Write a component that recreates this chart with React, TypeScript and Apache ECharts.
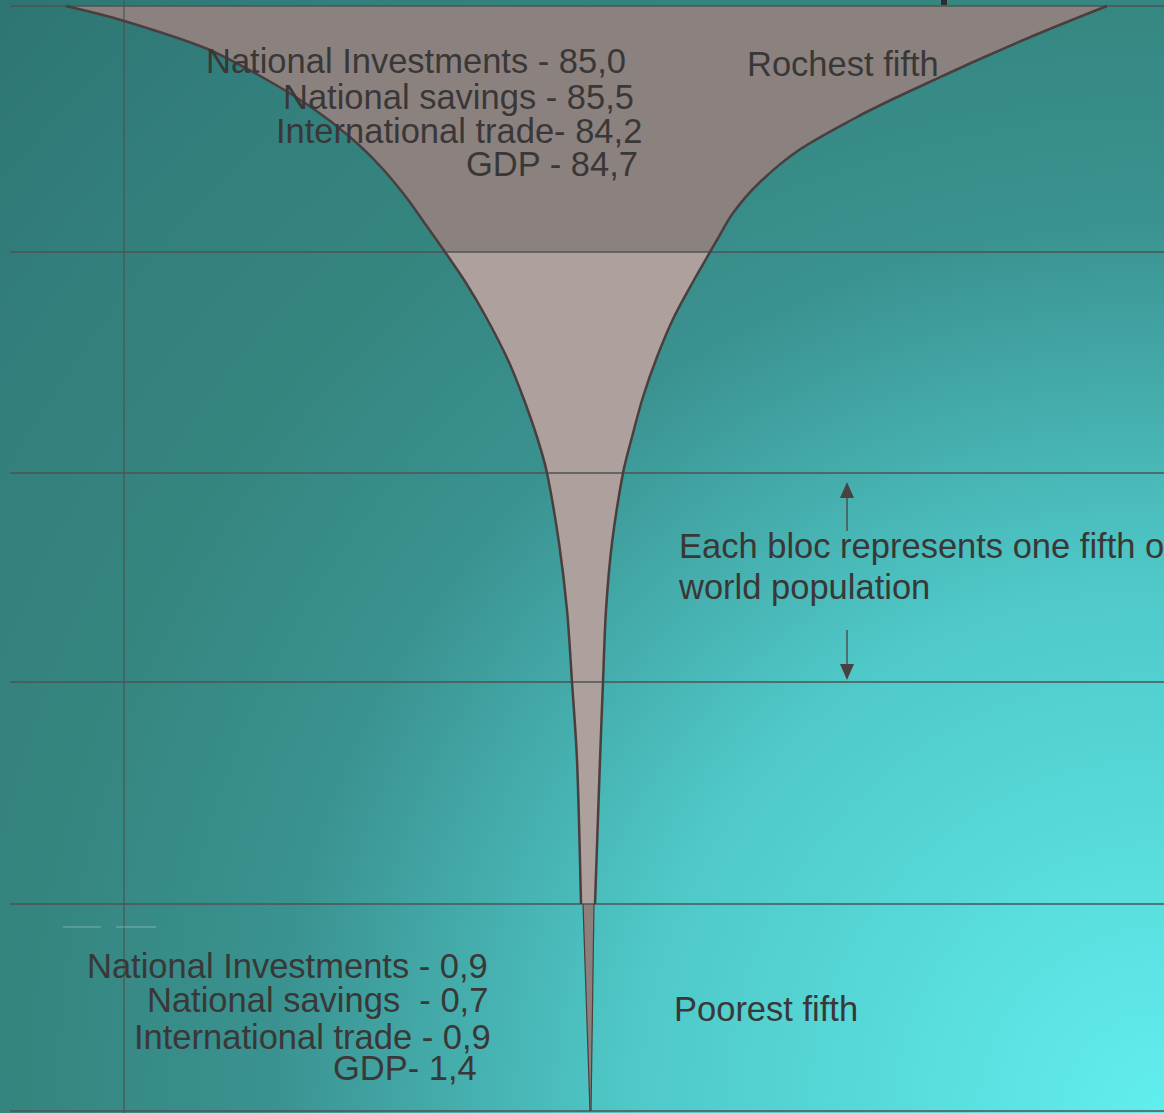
import React, { useEffect, useRef } from "react";
import * as echarts from "echarts";

const W = 1164;
const H = 1113;

// Boundaries between the five population blocs (top → bottom)
const blocBounds = [6, 252, 473, 682, 904, 1111];
const blocNames = ["Richest fifth", "Second fifth", "Third fifth", "Fourth fifth", "Poorest fifth"];
const blocColors = ["#8b8280", "#ada09d", "#ada09d", "#ada09d", "#8c7f7c"];

// Outline of the "champagne glass" (x, depth)
const leftEdge: [number, number][] = [
  [66, 6], [121, 20], [205, 48], [262, 77], [311, 107], [350, 137], [381, 167], [406, 197],
  [426, 225], [445, 252], [466, 283], [486, 317], [508, 360], [523, 397], [537, 437], [547, 473],
  [559, 543], [567, 610], [572, 682], [577, 760], [581, 904],
];
const rightEdge: [number, number][] = [
  [1107, 6], [1040, 33], [980, 59], [934, 80], [891, 100], [857, 117], [799, 150], [759, 183],
  [733, 213], [717, 240], [710, 252], [694, 280], [674, 317], [657, 357], [643, 397], [632, 437],
  [623, 473], [612, 543], [606, 610], [603, 682], [600, 760], [595, 904],
];
const poorLeft: [number, number][] = [[583, 904], [590, 1111]];
const poorRight: [number, number][] = [[594, 904], [591, 1111]];

const refLineX = [124];

const richLabels = ["National Investments - ", "National savings - ", "International trade- ", "GDP - "];
const richValues = [85.0, 85.5, 84.2, 84.7];
const poorLabels = ["National Investments - ", "National savings  - ", "International trade - ", "GDP- "];
const poorValues = [0.9, 0.7, 0.9, 1.4];

const fmt = (v: number) => v.toFixed(1).replace(".", ",");

export default function App() {
  const ref = useRef<HTMLDivElement>(null);

  useEffect(() => {
    if (!ref.current) return;
    const chart = echarts.init(ref.current, null, { renderer: "svg" });

    const font = "Liberation Sans";
    const txtColor = "#3a3737";
    const fs = 34.5;
    const txt = (text: string, x: number, y: number) => ({
      type: "text",
      x,
      y,
      z: 100,
      style: { text, x: 0, y: 0, fill: txtColor, fontSize: fs, fontFamily: font, align: "left", verticalAlign: "middle" },
    });

    const richY = [61, 97, 131, 164];
    const richX = [206, 283, 276, 466];
    const poorY = [966, 1000, 1037, 1068];
    const poorX = [87, 147, 134, 333];

    const graphic: any[] = [
      {
        type: "rect",
        z: -10,
        shape: { x: 0, y: 0, width: W, height: H },
        style: {
          fill: new echarts.graphic.RadialGradient(W, H, 1610, [
            { offset: 0, color: "#62eeee" },
            { offset: 0.333, color: "#4fc8c8" },
            { offset: 0.555, color: "#3a9290" },
            { offset: 0.71, color: "#35857f" },
            { offset: 0.87, color: "#327e7c" },
            { offset: 1, color: "#2d7573" },
          ], true),
        },
      },
      { type: "rect", z: 50, shape: { x: 941, y: 0, width: 6, height: 5 }, style: { fill: "#2e2e2e" } },
      ...richLabels.map((l, i) => txt(l + fmt(richValues[i]), richX[i], richY[i])),
      txt("Rochest fifth", 747, 64),
      ...poorLabels.map((l, i) => txt(l + fmt(poorValues[i]), poorX[i], poorY[i])),
      txt(blocNames[4], 674, 1009),
      txt("Each bloc represents one fifth of", 679, 546),
      txt("world population", 679, 587),
      // arrows
      { type: "line", z: 60, shape: { x1: 847, y1: 495, x2: 847, y2: 531 }, style: { stroke: "#4a4242", lineWidth: 1.3 } },
      { type: "polygon", z: 60, shape: { points: [[847, 482], [840, 498], [854, 498]] }, style: { fill: "#4a4242" } },
      { type: "line", z: 60, shape: { x1: 847, y1: 630, x2: 847, y2: 667 }, style: { stroke: "#4a4242", lineWidth: 1.3 } },
      { type: "polygon", z: 60, shape: { points: [[847, 680], [840, 664], [854, 664]] }, style: { fill: "#4a4242" } },
      // faint marks
      { type: "line", z: 60, shape: { x1: 63, y1: 927, x2: 101, y2: 927 }, style: { stroke: "rgba(255,255,255,0.35)", lineWidth: 1 } },
      { type: "line", z: 60, shape: { x1: 116, y1: 927, x2: 156, y2: 927 }, style: { stroke: "rgba(255,255,255,0.35)", lineWidth: 1 } },
    ];

    const edgeStroke = "#4a3e3e";

    chart.setOption({
      animation: false,
      grid: { left: 0, right: 0, top: 0, bottom: 0 },
      xAxis: { type: "value", min: 0, max: W, show: false },
      yAxis: { type: "value", min: 0, max: H, inverse: true, show: false },
      graphic,
      series: [
        {
          type: "custom",
          name: "blocs",
          z: 2,
          silent: true,
          data: blocNames.map((_, i) => [i]),
          renderItem: (params: any, api: any) => {
            const i = api.value(0);
            const top = blocBounds[i];
            const bot = blocBounds[i + 1];
            let L: [number, number][], R: [number, number][];
            if (i === 4) {
              L = poorLeft;
              R = poorRight;
            } else {
              L = leftEdge.filter((p) => p[1] >= top && p[1] <= bot);
              R = rightEdge.filter((p) => p[1] >= top && p[1] <= bot);
            }
            const pts = [...L, ...R.slice().reverse()].map((p) => api.coord(p));
            return { type: "polygon", shape: { points: pts }, style: { fill: blocColors[i] } };
          },
        },
        {
          type: "custom",
          name: "rules",
          z: 3,
          silent: true,
          data: blocBounds.map((b) => [b]),
          renderItem: (params: any, api: any) => {
            const y = api.value(0);
            const a = api.coord([10, y]);
            const b = api.coord([W, y]);
            return { type: "line", shape: { x1: a[0], y1: a[1], x2: b[0], y2: b[1] }, style: { stroke: "#4c5454", lineWidth: 1.5 } };
          },
        },
        {
          type: "custom",
          name: "vline",
          z: 3,
          silent: true,
          data: refLineX.map((x) => [x]),
          renderItem: (params: any, api: any) => {
            const x = api.value(0);
            const a = api.coord([x, 0]);
            const b = api.coord([x, H]);
            return { type: "line", shape: { x1: a[0], y1: a[1], x2: b[0], y2: b[1] }, style: { stroke: "#4c5454", lineWidth: 1.2 } };
          },
        },
        {
          type: "custom",
          name: "edges",
          z: 4,
          silent: true,
          data: [[0], [1], [2], [3]],
          renderItem: (params: any, api: any) => {
            const k = api.value(0);
            const src = [leftEdge, rightEdge, poorLeft, poorRight][k];
            const pts = src.map((p) => api.coord(p));
            return {
              type: "polyline",
              shape: { points: pts, smooth: k < 2 ? 0.3 : 0 },
              style: { stroke: edgeStroke, lineWidth: k < 2 ? 2.5 : 1.2, fill: "none" },
            };
          },
        },
      ],
    });

    return () => chart.dispose();
  }, []);

  return <div ref={ref} style={{ position: "absolute", left: 0, top: 0, width: W, height: H }} />;
}
